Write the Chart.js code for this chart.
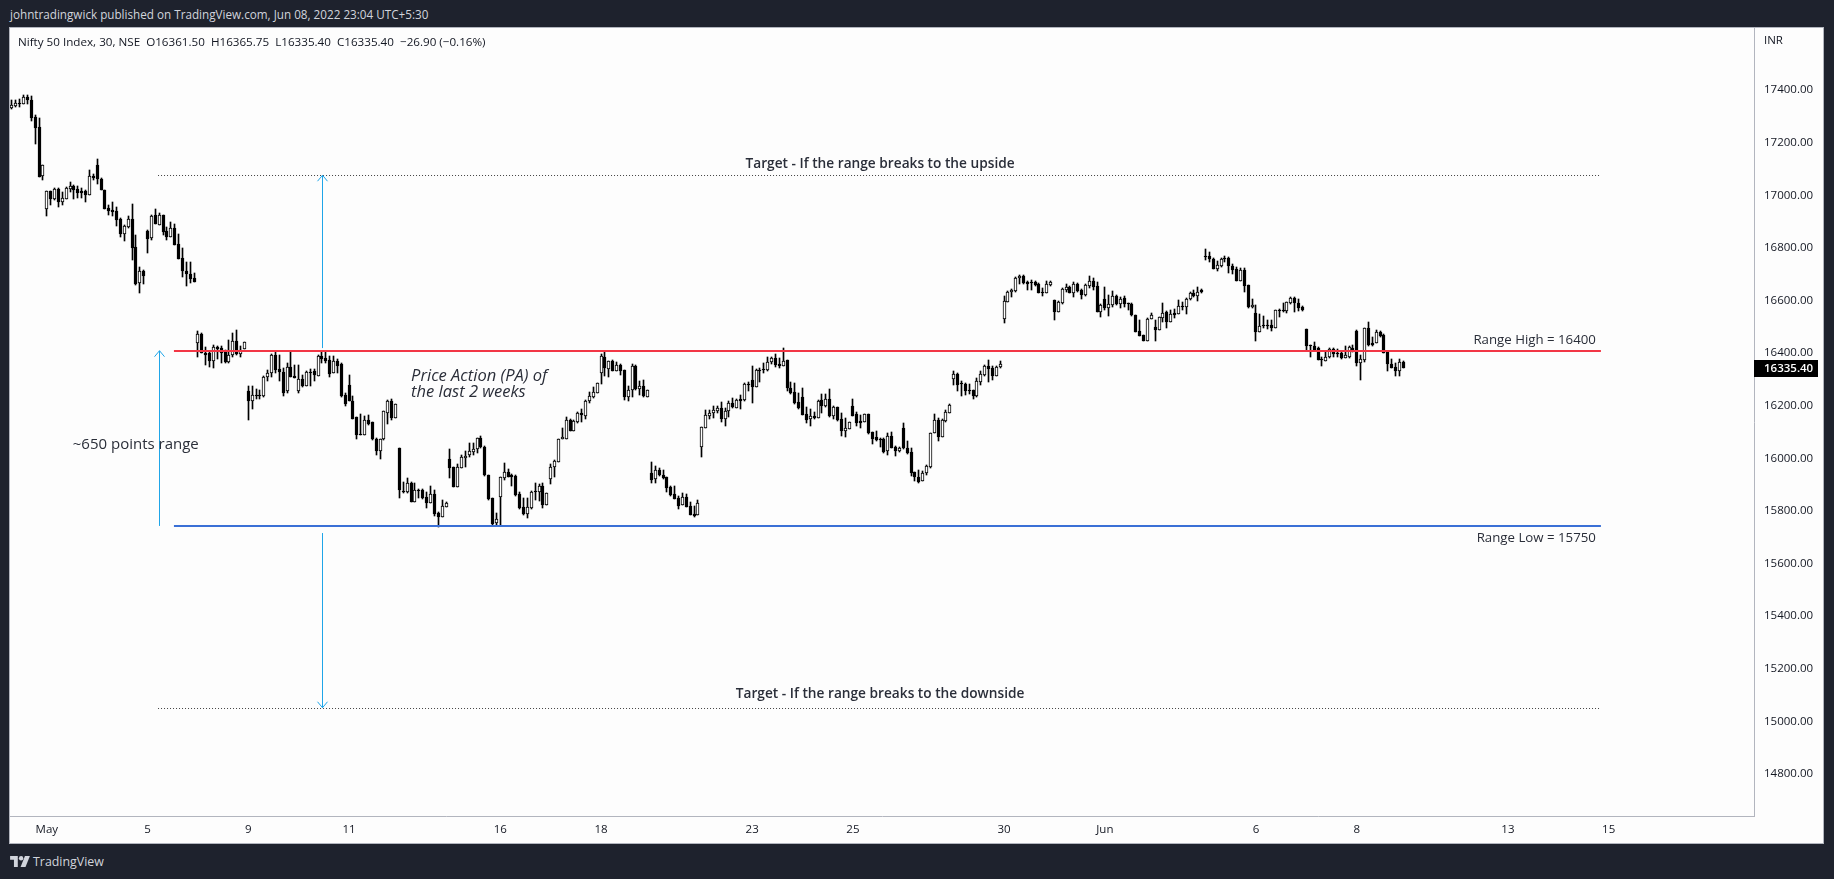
<!DOCTYPE html>
<html><head><meta charset="utf-8">
<script src="https://cdn.jsdelivr.net/npm/chart.js@4/dist/chart.umd.min.js"></script>
<style>
html,body{margin:0;padding:0;width:1834px;height:879px;background:#1e222d;overflow:hidden}
#pane{position:absolute;left:9px;top:27px;width:1813px;height:815px;border:1px solid #b2b5be;background:#fdfdfd}
#pane canvas{display:block}
#head{position:absolute;left:10px;top:6px;font:11.7px "Open Sans",sans-serif;color:#d1d4dc;white-space:nowrap}
#foot{position:absolute;left:33px;top:853px;font:12.4px "Open Sans",sans-serif;color:#d1d4dc}
#logo{position:absolute;left:10px;top:856px}
</style></head><body>
<div id="head">johntradingwick published on TradingView.com, Jun 08, 2022 23:04 UTC+5:30</div>
<div id="pane"><canvas id="c" width="1813" height="815"></canvas></div>
<svg id="logo" width="20" height="11" viewBox="0 0 36 20"><path fill="#d1d4dc" d="M0 0h14v20H7V7H0z"/><circle cx="20" cy="4" r="4" fill="#d1d4dc"/><path fill="#d1d4dc" d="M27 0h9l-8 20h-9z"/></svg>
<div id="foot">TradingView</div>
<script>
const opens=[17327,17334,17343,17342,17366,17356,17290,17253,17068,
16943,17009,16980,17018,16970,16980,17019,17029,17018,17010,17010,16996,
17067,17108,17056,17014,16945,16938,16934,16904,16845,16875,16904,16796,16659,16706,
16858,16833,16918,16882,16919,16858,16837,16869,16809,16754,16706,16695,16678,
16434,16465,16393,16393,16364,16417,16412,16403,16361,16387,16441,16389,16408,
16250,16213,16235,16235,16231,16302,16317,16387,16332,16321,16248,16340,16305,
16251,16294,16267,16322,16324,16308,16383,16374,16368,16317,16364,16353,16235,
16273,16212,16150,16087,16084,16140,16133,16069,16020,16066,16168,16211,16149,
16035,15870,15865,15902,15829,15875,15875,15848,15825,15859,15785,15772,15810,
15991,15960,15886,15959,15997,16007,16019,16030,16070,16038,15931,15842,15747,
15848,15921,15941,15931,15928,15859,15808,15783,15807,15870,15867,15889,15818,
15914,15960,15981,16068,16069,16140,16099,16132,16167,16155,16211,16227,16244,
16320,16378,16335,16365,16327,16349,16328,16226,16254,16345,16258,16269,16228,
15940,15914,15950,15931,15922,15886,15859,15845,15817,15846,15813,15781,15780,
16038,16111,16156,16165,16173,16184,16144,16172,16203,16186,16218,16216,16276,
16292,16266,16330,16332,16330,16359,16374,16353,16345,16368,16263,16246,16208,
16226,16163,16145,16154,16149,16216,16193,16220,16155,16189,16144,16099,16107,
16193,16163,16135,16133,16163,16093,16075,16068,16068,16023,16079,16037,16023,
16108,16032,16017,15942,15922,15909,15937,15961,16092,16139,16076,16137,16168,
16294,16313,16279,16277,16253,16253,16231,16285,16312,16344,16337,16306,16340,
16525,16590,16625,16630,16680,16688,16663,16666,16666,16657,16626,16624,16653,
16595,16552,16585,16634,16644,16624,16657,16634,16616,16650,16668,16649,16552,
16600,16564,16578,16611,16581,16602,16583,16581,16539,16478,16462,16441,16524,
16492,16483,16527,16550,16512,16545,16543,16572,16571,16600,16621,16611,16634,
16763,16764,16752,16714,16725,16757,16756,16725,16714,16669,16710,16652,16569,
16546,16476,16500,16500,16500,16491,16558,16558,16554,16584,16603,16583,16568,
16486,16424,16422,16415,16372,16365,16378,16408,16394,16394,16377,16380,16412,
16478,16356,16368,16488,16431,16434,16473,16463,16400,16351,16340,16327,16361.5];
const highs=[17356,17356,17359,17375,17375,17372,17299,17286,17108,
17009,17009,17020,17020,17005,17024,17043,17033,17028,17020,17014,17090,
17075,17130,17058,17014,16957,16967,16948,16906,16881,16916,16961,16843,16720,16710,
16862,16919,16940,16925,16919,16875,16891,16885,16845,16792,16741,16739,16700,
16477,16469,16418,16397,16425,16421,16421,16406,16444,16469,16482,16421,16435,
16267,16267,16258,16254,16305,16330,16391,16402,16387,16336,16355,16400,16349,
16349,16311,16324,16332,16332,16386,16400,16402,16384,16384,16370,16355,16241,
16311,16229,16150,16163,16155,16159,16133,16070,16068,16172,16216,16218,16199,
16035,15905,15918,15905,15899,15878,15879,15867,15887,15874,15789,15836,15827,
16029,15960,15973,16007,16020,16051,16051,16070,16077,16041,15931,15842,15785,
15922,15978,15952,15935,15931,15865,15842,15842,15870,15899,15896,15899,15861,
15973,15988,16067,16108,16150,16142,16140,16169,16180,16216,16247,16264,16279,
16390,16398,16365,16368,16362,16353,16330,16267,16353,16348,16286,16292,16252,
15979,15965,15956,15950,15924,15890,15889,15849,15861,15857,15829,15814,15836,
16112,16178,16178,16193,16193,16207,16187,16212,16222,16218,16235,16279,16283,
16345,16332,16336,16355,16380,16378,16390,16374,16412,16368,16283,16279,16241,
16260,16190,16180,16171,16216,16237,16237,16258,16193,16190,16165,16146,16133,
16218,16169,16159,16163,16163,16095,16098,16073,16070,16089,16093,16041,16038,
16127,16060,16035,15943,15950,15947,15969,16089,16163,16146,16142,16178,16199,
16326,16317,16289,16282,16277,16254,16298,16324,16349,16368,16343,16343,16363,
16611,16629,16638,16685,16691,16690,16668,16672,16668,16659,16643,16668,16668,
16596,16591,16640,16657,16650,16666,16662,16636,16655,16687,16678,16666,16579,
16644,16615,16630,16615,16609,16612,16586,16583,16539,16520,16463,16526,16545,
16520,16533,16583,16554,16558,16560,16596,16590,16602,16627,16634,16644,16638,
16788,16780,16754,16745,16754,16764,16761,16733,16720,16716,16716,16653,16601,
16577,16543,16535,16520,16520,16558,16560,16583,16590,16606,16606,16598,16574,
16487,16424,16437,16419,16380,16400,16413,16412,16411,16397,16421,16421,16425,
16482,16387,16491,16511,16457,16482,16479,16465,16402,16370,16355,16370,16365.75];
const lows=[17322,17331,17331,17342,17341,17277,17189,17065,17052,
16915,16957,16976,16951,16957,16978,17008,16980,16985,16982,16970,16996,
17052,17037,17014,16940,16919,16915,16877,16837,16820,16871,16748,16653,16624,16657,
16776,16824,16885,16881,16843,16824,16837,16805,16752,16684,16650,16662,16663,
16380,16393,16349,16342,16339,16373,16358,16355,16355,16380,16388,16380,16408,
16140,16182,16218,16218,16228,16286,16302,16317,16286,16229,16244,16302,16301,
16241,16264,16267,16267,16286,16308,16358,16358,16302,16317,16317,16226,16194,
16212,16145,16069,16083,16083,16121,16064,16007,15990,16064,16123,16140,16149,
15845,15864,15864,15827,15827,15842,15841,15804,15823,15776,15734,15770,15808,
15918,15885,15884,15956,15962,16000,16007,16013,16032,15928,15836,15737,15739,
15737,15912,15922,15887,15852,15803,15779,15766,15800,15836,15833,15807,15818,
15897,15922,15981,16066,16069,16097,16098,16127,16133,16143,16203,16222,16244,
16277,16305,16302,16325,16324,16311,16216,16210,16226,16254,16235,16226,16228,
15899,15899,15927,15914,15865,15851,15838,15800,15817,15809,15778,15772,15779,
16000,16111,16144,16146,16168,16131,16115,16150,16184,16184,16183,16212,16251,
16206,16266,16285,16317,16324,16353,16340,16336,16345,16251,16238,16200,16182,
16158,16127,16115,16145,16146,16168,16190,16150,16145,16136,16079,16076,16107,
16155,16118,16111,16132,16088,16049,16061,16036,16013,16007,16032,16003,16019,
16030,16011,15927,15909,15902,15908,15931,15957,16090,16060,16075,16131,16168,
16273,16248,16232,16236,16237,16220,16228,16273,16308,16285,16292,16305,16337,
16507,16590,16609,16628,16657,16658,16634,16634,16650,16621,16612,16623,16649,
16520,16550,16581,16625,16621,16609,16625,16600,16612,16640,16634,16549,16533,
16558,16536,16571,16577,16564,16568,16558,16535,16473,16459,16439,16439,16522,
16440,16482,16514,16489,16511,16527,16543,16558,16543,16596,16609,16593,16621,
16748,16742,16712,16706,16723,16742,16700,16693,16667,16668,16628,16565,16565,
16441,16474,16488,16487,16479,16490,16530,16552,16548,16581,16552,16554,16554,
16403,16380,16403,16368,16346,16364,16377,16378,16378,16372,16374,16374,16398,
16345,16292,16361,16422,16421,16431,16454,16393,16327,16337,16307,16307,16335.4];
const closes=[17336,17343,17341,17366,17355,17289,17251,17065,17108,
17009,16980,17018,16970,16982,17021,17028,17014,17002,17004,16996,17066,
17061,17054,17015,16943,16935,16930,16900,16847,16877,16902,16795,16657,16705,16688,
16829,16915,16886,16918,16854,16837,16869,16806,16753,16706,16695,16676,16664,
16465,16396,16387,16364,16416,16411,16396,16361,16387,16441,16390,16406,16435,
16212,16235,16229,16229,16302,16317,16387,16330,16321,16244,16340,16302,16301,
16294,16267,16321,16317,16311,16383,16373,16364,16315,16364,16346,16231,16201,
16213,16145,16084,16083,16140,16125,16066,16020,16068,16172,16211,16149,16199,
15874,15865,15902,15829,15874,15871,15842,15825,15857,15783,15772,15812,15824,
15959,15886,15960,15998,16004,16022,16030,16070,16036,15931,15841,15745,15764,
15922,15941,15924,15922,15855,15805,15783,15808,15867,15866,15889,15818,15861,
15960,15984,16067,16074,16140,16099,16136,16167,16157,16212,16231,16246,16279,
16384,16336,16363,16327,16349,16327,16226,16254,16345,16258,16269,16231,16252,
15912,15950,15929,15918,15882,15855,15841,15814,15848,15810,15779,15776,15823,
16112,16158,16165,16176,16184,16145,16173,16206,16190,16214,16213,16275,16274,
16266,16330,16325,16329,16360,16374,16349,16345,16365,16263,16244,16203,16187,
16159,16140,16154,16149,16213,16194,16218,16156,16189,16140,16099,16108,16133,
16156,16130,16130,16161,16092,16069,16063,16064,16019,16079,16035,16023,16033,
16032,16013,15940,15923,15905,15937,15964,16089,16139,16076,16139,16169,16197,
16313,16274,16275,16248,16248,16231,16287,16315,16344,16335,16305,16340,16351,
16591,16625,16634,16681,16688,16661,16658,16661,16653,16623,16623,16655,16663,
16552,16587,16638,16644,16624,16655,16630,16614,16653,16667,16647,16552,16577,
16564,16581,16611,16581,16600,16581,16581,16538,16476,16460,16441,16525,16538,
16482,16530,16545,16512,16541,16538,16572,16569,16600,16622,16612,16628,16628,
16758,16753,16715,16728,16752,16750,16726,16711,16669,16710,16650,16568,16578,
16476,16497,16496,16496,16490,16557,16554,16554,16587,16602,16583,16566,16559,
16422,16421,16407,16369,16368,16379,16410,16391,16391,16375,16386,16416,16401,
16356,16370,16488,16425,16425,16473,16459,16396,16353,16339,16326,16359,16335.4];
const xTickBars=[9,35,61,87,126,152,191,217,256,282,321,347,386,412];
const xTickLabels=['May','5','9','11','16','18','23','25','30','Jun','6','8','13','15'];
const yTickValues=[14800,15000,15200,15400,15600,15800,16000,16200,16400,16600,16800,17000,17200,17400];
const slotCount=450;
const priceMin=14634.5, priceMax=17629.6;
const rangeHigh=16403, rangeLow=15737, targetUp=17070, targetDown=15046;
const lineFrom=41.8, lineTo=410, dottedFrom=37.7;
const arrowBarA=80, arrowBarB=38, arrowGapTop=16413, arrowGapBottom=15710;
const legendText='Nifty 50 Index, 30, NSE  O16361.50  H16365.75  L16335.40  C16335.40  \u221226.90 (\u22120.16%)';

const UI='"Open Sans",sans-serif';
const slots=Array.from({length:slotCount},(_,i)=>i);
const tickMap=new Map(xTickBars.map((b,i)=>[b,xTickLabels[i]]));
const wicks=lows.map((l,i)=>[l,highs[i]]);
const bodies=opens.map((o,i)=>[o,closes[i]]);
const up=opens.map((o,i)=>closes[i]>=o);

const snap={id:'snap',afterDatasetsUpdate(chart){
  chart.data.datasets.forEach((d,k)=>{
    chart.getDatasetMeta(k).data.forEach(el=>{
      el.x=Math.floor(el.x)+.5;
      el.y=Math.round(el.y);el.base=Math.round(el.base);
      if(Math.abs(el.y-el.base)<1)el.base=el.y+1;
    });
  });
},beforeDraw(chart){
  chart.scales.y.getLabelItems().forEach(it=>{it.options.translation[1]+=1.6;});
  chart.scales.x.getLabelItems().forEach(it=>{it.options.translation[1]+=1;});
}};
const notes={id:'notes',afterDatasetsDraw(chart){
  const {ctx,scales:{x,y},chartArea:a}=chart;
  const X=v=>x.getPixelForValue(v),Y=v=>y.getPixelForValue(v);
  const seg=(x1,y1,x2,y2,col,w,dash)=>{ctx.save();ctx.strokeStyle=col;ctx.lineWidth=w;ctx.setLineDash(dash||[]);ctx.beginPath();ctx.moveTo(x1,y1);ctx.lineTo(x2,y2);ctx.stroke();ctx.restore();};
  const txt=(s,px,py,f,col,al)=>{ctx.save();ctx.font=f;ctx.fillStyle=col;ctx.textAlign=al||'left';ctx.textBaseline='middle';ctx.fillText(s,px,py);ctx.restore();};
  const cy='#1fa5e8';
  const ln=v=>Math.round(Y(v))+.5;
  seg(X(dottedFrom),ln(targetUp),X(lineTo),ln(targetUp),'#444',1,[1,2]);
  seg(X(dottedFrom),ln(targetDown),X(lineTo),ln(targetDown),'#444',1,[1,2]);
  seg(X(lineFrom),Math.round(Y(rangeHigh)),X(lineTo),Math.round(Y(rangeHigh)),'#f23645',2);
  seg(X(lineFrom),Math.round(Y(rangeLow)),X(lineTo),Math.round(Y(rangeLow)),'#3a70d6',2);
  const arrow=(xv,from,to)=>{const px=Math.round(X(xv))+.5,a1=Y(from),a2=Y(to),d=a2<a1?1:-1;
    seg(px,a1,px,a2,cy,1);
    seg(px-5,a2+d*6,px,a2,cy,1);seg(px+5,a2+d*6,px,a2,cy,1);};
  arrow(arrowBarA,arrowGapTop,targetUp);
  arrow(arrowBarA,arrowGapBottom,targetDown);
  arrow(arrowBarB,rangeLow,rangeHigh);
  const c='#2a2e39';
  txt(legendText,8,14.5,'11.65px '+UI,'#131722');
  txt('INR',a.right+10,13,'11.5px '+UI,'#131722');
  txt('Target - If the range breaks to the upside',X(224),Y(targetUp)-11,'600 13.7px '+UI,c,'center');
  txt('Target - If the range breaks to the downside',X(224),Y(targetDown)-14,'600 13.7px '+UI,c,'center');
  txt('Range High = 16400',X(lineTo)-5,Y(rangeHigh)-10,'13.25px '+UI,c,'right');
  txt('Range Low = 15750',X(lineTo)-5,Y(rangeLow)+12,'13.25px '+UI,c,'right');
  txt('~650 points range',X(15.7),Y(16046),'15px '+UI,c);
  txt('Price Action (PA) of',X(103),Y(16305),'italic 16.5px '+UI,c);
  txt('the last 2 weeks',X(103),Y(16245),'italic 16.5px '+UI,c);
  const ty=Y(closes[closes.length-1]);
  ctx.fillStyle='#000';ctx.fillRect(a.right,Math.round(ty)-8,64,17);
  txt('16335.40',a.right+10,Math.round(ty)+.5,'600 11.5px '+UI,'#fff');
}};
new Chart(document.getElementById('c'),{
  type:'bar',
  data:{labels:slots,datasets:[
    {data:wicks,grouped:false,barThickness:1,backgroundColor:'#000',borderWidth:0,order:2},
    {data:bodies,grouped:false,barThickness:3,backgroundColor:up.map(u=>u?'#fff':'#000'),borderColor:'#000',borderWidth:1,borderSkipped:false,order:1}
  ]},
  options:{responsive:false,animation:false,devicePixelRatio:1,
    layout:{padding:0},
    plugins:{legend:{display:false},tooltip:{enabled:false}},
    scales:{
      x:{type:'category',offset:true,grid:{display:false,drawTicks:false},border:{display:true,color:'#b2b5be'},
        afterFit(s){s.height=27;s.paddingLeft=0;s.paddingRight=0;},
        ticks:{autoSkip:false,maxRotation:0,minRotation:0,padding:6,color:'#131722',font:{family:'"Open Sans"',size:11.5},
          callback(v){return tickMap.get(v)||'';}}},
      y:{position:'right',min:priceMin,max:priceMax,grid:{display:false,drawTicks:false},border:{display:true,color:'#b2b5be'},
        afterBuildTicks(s){s.ticks=yTickValues.map(value=>({value}));},
        afterFit(s){s.width=69;s.paddingTop=0;s.paddingBottom=0;},
        ticks:{padding:10,autoSkip:false,color:'#131722',font:{family:'"Open Sans"',size:11.5},
          callback(v){return v.toFixed(2);}}}
    }
  },
  plugins:[snap,notes]
});
</script>
</body></html>
